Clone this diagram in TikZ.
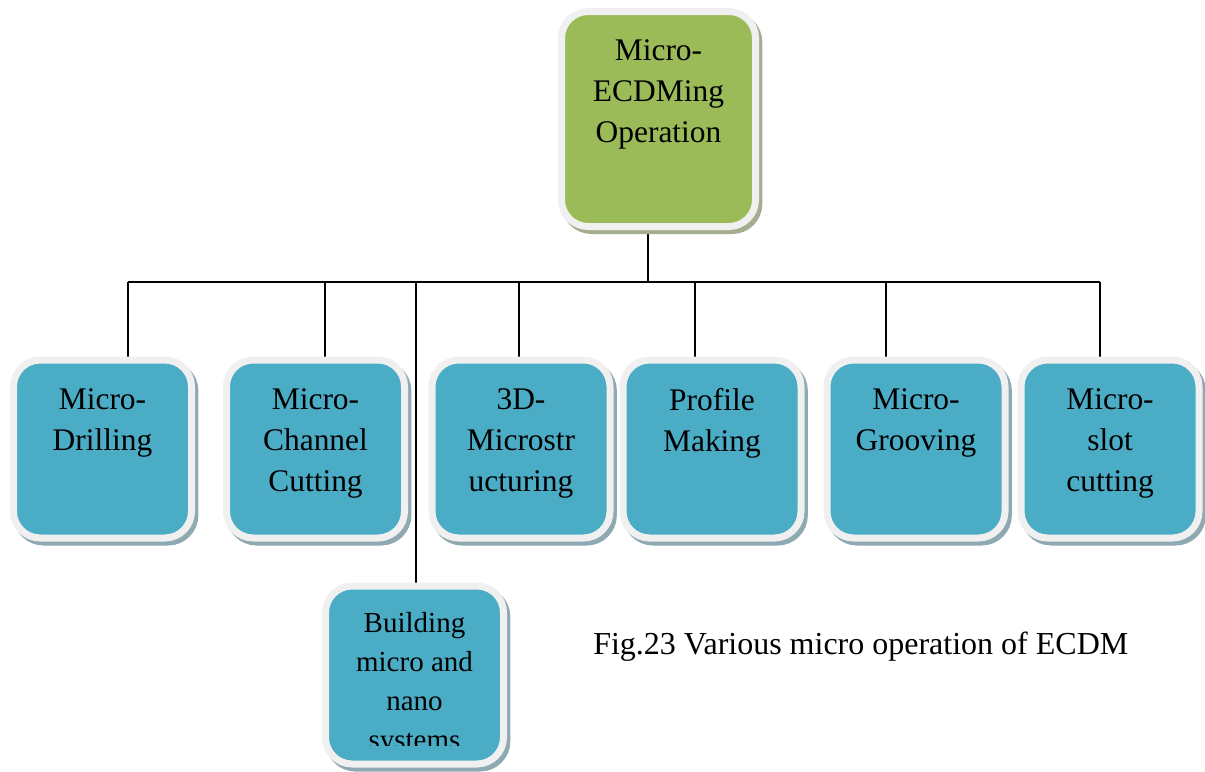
\documentclass[tikz,border=0pt]{standalone}
\usepackage{fontspec}
\setmainfont{Liberation Serif}
\usetikzlibrary{calc,shadows,backgrounds}
\definecolor{tealfill}{HTML}{4BACC6}
\definecolor{leaffill}{HTML}{9BBB59}
\definecolor{rim}{HTML}{F0F0F0}
\definecolor{tealshade}{HTML}{8EA9B2}
\definecolor{leafshade}{HTML}{A2AE8E}
\begin{document}
\begin{tikzpicture}[x=0.75pt,y=-0.75pt,
  card/.style={draw=rim, line width=5.25pt, rounded corners=20pt,
    minimum width=133.5pt, minimum height=133.5pt, inner sep=0pt},
  opcard/.style={card, fill=tealfill,
    general shadow={draw=tealshade, fill=tealshade, shadow xshift=2.5pt, shadow yshift=-3pt}},
  rootcard/.style={card, fill=leaffill, minimum width=145.5pt, minimum height=161.25pt,
    general shadow={draw=leafshade, fill=leafshade, shadow xshift=2.5pt, shadow yshift=-3pt}},
  lbl/.style={anchor=north, align=center, inner sep=0pt,
    font=\fontsize{23.6}{30.75}\selectfont},
  smalllbl/.style={lbl, font=\fontsize{21.75}{29.25}\selectfont},
  wire/.style={line width=1pt, black}]
\useasboundingbox (0,0) rectangle (1205,771);

% root and operation cards
\node[rootcard] (root) at (658.5,119) {};
\node[opcard] (b1) at (102.5,449) {};
\node[opcard] (b2) at (315.5,449) {};
\node[opcard] (b3) at (521,449) {};
\node[opcard] (b4) at (712,449) {};
\node[opcard] (b5) at (916,449) {};
\node[opcard] (b6) at (1110,449) {};
\node[opcard] (bld) at (414.5,675) {};

% labels
\node[lbl] (troot) at ($(root.north)+(0,31)$) {Micro-\\ECDMing\\Operation};
\node[lbl] (t1) at ($(b1.north)+(0,32)$) {Micro-\\Drilling};
\node[lbl] (t2) at ($(b2.north)+(0,32)$) {Micro-\\Channel\\Cutting};
\node[lbl] (t3) at ($(b3.north)+(0,32)$) {3D-\\Microstr\\ucturing};
\node[lbl] (t4) at ($(b4.north)+(0,32)$) {Profile\\Making};
\node[lbl] (t5) at ($(b5.north)+(0,32)$) {Micro-\\Grooving};
\node[lbl] (t6) at ($(b6.north)+(0,32)$) {Micro-\\slot\\cutting};
\begin{scope}
  \clip (329,590) rectangle (500,745);
  \node[smalllbl] (tbld) at ($(bld.north)+(0,29.5)$) {Building\\micro and\\nano\\systems};
\end{scope}

\node[anchor=base west, inner sep=0pt, font=\fontsize{24}{30.75}\selectfont] (caption)
  at (593,654) {Fig.23 Various micro operation of ECDM};

% bus junctions
\coordinate (jt) at (648,282);
\coordinate (j1) at (128,282);
\coordinate (j2) at (325,282);
\coordinate (j3) at (416,282);
\coordinate (j4) at (519,282);
\coordinate (j5) at (695,282);
\coordinate (j6) at (886,282);
\coordinate (j7) at (1100,282);

% connectors, behind the cards
\begin{scope}[on background layer]
  \draw[wire] (root.south -| jt) -- (jt);
  \draw[wire] (j1) -- (j7);
  \draw[wire] (j1) -- (j1 |- b1.north);
  \draw[wire] (j2) -- (j2 |- b2.north);
  \draw[wire] (j3) -- (j3 |- bld.north);
  \draw[wire] (j4) -- (j4 |- b3.north);
  \draw[wire] (j5) -- (j5 |- b4.north);
  \draw[wire] (j6) -- (j6 |- b5.north);
  \draw[wire] (j7) -- (j7 |- b6.north);
\end{scope}
\end{tikzpicture}
\end{document}
